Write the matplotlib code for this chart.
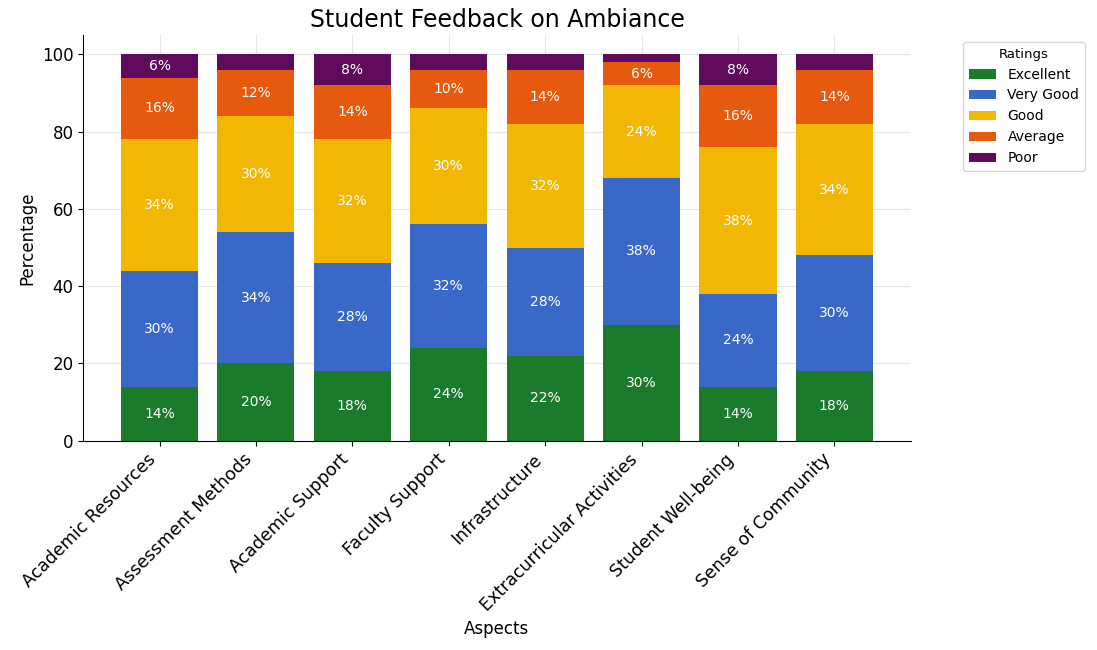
import matplotlib
matplotlib.use("Agg")
import matplotlib.pyplot as plt
import numpy as np

aspects = ['Academic Resources', 'Assessment Methods', 'Academic Support',
           'Faculty Support', 'Infrastructure', 'Extracurricular Activities',
           'Student Well-being', 'Sense of Community']
excellent = [14, 20, 18, 24, 22, 30, 14, 18]
very_good = [30, 34, 28, 32, 28, 38, 24, 30]
good = [34, 30, 32, 30, 32, 24, 38, 34]
average = [16, 12, 14, 10, 14, 6, 16, 14]
poor = [6, 4, 8, 4, 4, 2, 8, 4]

ratings = ['Excellent', 'Very Good', 'Good', 'Average', 'Poor']
series = [excellent, very_good, good, average, poor]
colors = ['#1b7a2c', '#3a68c6', '#f2b705', '#e65a10', '#5e0b5c']

fig = plt.figure(figsize=(10.97, 6.5), dpi=100)
ax = fig.add_axes([0.076, 0.322, 0.754, 0.624])

x = np.arange(len(aspects))
bottom = np.zeros(len(aspects))
for name, vals, col in zip(ratings, series, colors):
    bars = ax.bar(x, vals, 0.8, bottom=bottom, color=col, label=name)
    for rect, v in zip(bars, vals):
        if v > 5:
            ax.text(rect.get_x() + rect.get_width() / 2,
                    rect.get_y() + rect.get_height() / 2,
                    f'{v}%', ha='center', va='center',
                    color='white', fontsize=10)
    bottom += np.array(vals)

ax.set_xticks(x)
ax.set_xticklabels(aspects, rotation=45, ha='right', fontsize=12.5)
ax.tick_params(axis='y', labelsize=12)
ax.set_yticks([0, 20, 40, 60, 80, 100])
ax.set_xlabel('Aspects', fontsize=12)
ax.set_ylabel('Percentage', fontsize=12)
ax.set_title('Student Feedback on Ambiance', fontsize=17)
ax.grid(True, color='#e6e6e6', linewidth=0.8)
ax.set_axisbelow(True)
ax.spines['top'].set_visible(False)
ax.spines['right'].set_visible(False)
ax.legend(title='Ratings', bbox_to_anchor=(1.055, 1.0), loc='upper left',
          fontsize=10, title_fontsize=9.5)

fig.savefig('out.png', dpi=100)
